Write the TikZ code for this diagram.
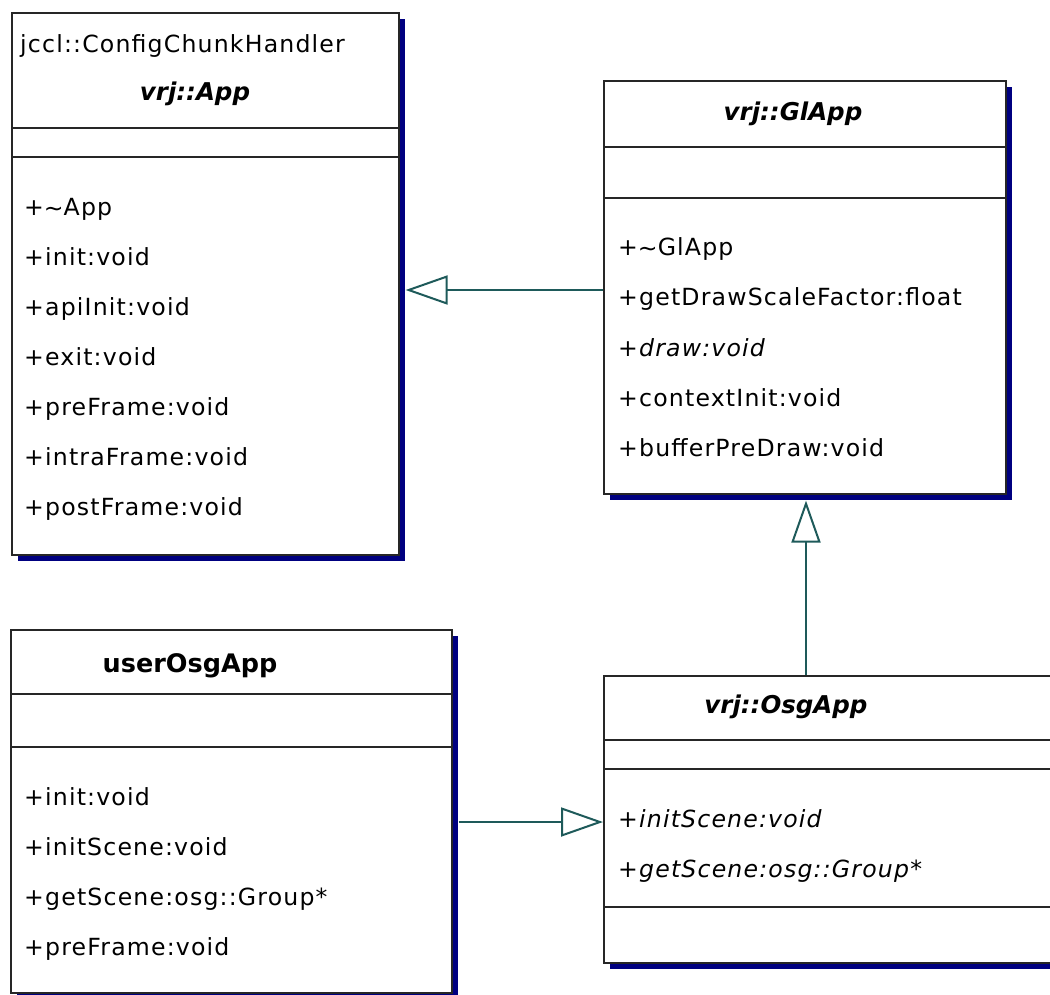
\documentclass[tikz,border=0pt]{standalone}
\usepackage{fontspec}
\setmainfont{DejaVu Sans}
\newfontfamily\mfont[LetterSpace=5]{DejaVu Sans}
\usetikzlibrary{arrows.meta,shadows}
\definecolor{shadowblue}{HTML}{000080}
\definecolor{linkteal}{HTML}{1E5A5A}
\begin{document}
\begin{tikzpicture}[x=1pt,y=-1pt,
  box/.style={draw=black!85, line width=1.6pt, fill=white, anchor=north west, inner sep=0pt,
    general shadow={fill=shadowblue, shadow xshift=6pt, shadow yshift=-6pt}},
  div/.style={draw=black!85, line width=1.6pt},
  txt/.style={anchor=base west, inner sep=0pt, font=\mfont\fontsize{23.6}{28}\selectfont},
  itxt/.style={txt, font=\mfont\fontsize{23.6}{28}\selectfont\itshape},
  ttl/.style={anchor=base, inner sep=0pt, font=\fontsize{24.5}{28}\selectfont\bfseries\itshape},
  bttl/.style={anchor=base, inner sep=0pt, font=\fontsize{25.5}{28}\selectfont\bfseries},
  inh/.style={draw=linkteal, line width=2pt, -{Triangle[open, length=42pt, width=29pt]}}]
\useasboundingbox (0,0) rectangle (1050,994);

% vrj::App
\node[box, minimum width=387pt, minimum height=542pt] (app) at (11,12) {};
\draw[div] (app.west |- 0,128) -- (app.east |- 0,128);
\draw[div] (app.west |- 0,157) -- (app.east |- 0,157);
\node[txt] (appst) at (20,52) {jccl::ConfigChunkHandler};
\node[ttl] (appt) at (195,100) {vrj::App};
\node[txt] (am1) at (24,215) {+\raisebox{-0.05em}{\char`\~}App};
\node[txt] (am2) at (24,265) {+init:void};
\node[txt] (am3) at (24,315) {+apiInit:void};
\node[txt] (am4) at (24,365) {+exit:void};
\node[txt] (am5) at (24,415) {+preFrame:void};
\node[txt] (am6) at (24,465) {+intraFrame:void};
\node[txt] (am7) at (24,515) {+postFrame:void};

% vrj::GlApp
\node[box, minimum width=402pt, minimum height=413pt] (glapp) at (603,80) {};
\draw[div] (glapp.west |- 0,147) -- (glapp.east |- 0,147);
\draw[div] (glapp.west |- 0,198) -- (glapp.east |- 0,198);
\node[ttl] (glt) at (793,120) {vrj::GlApp};
\node[txt] (gm1) at (618,255) {+\raisebox{-0.05em}{\char`\~}GlApp};
\node[txt] (gm2) at (618,305) {+getDrawScaleFactor:float};
\node[itxt] (gm3) at (618,356) {+draw:void};
\node[txt] (gm4) at (618,406) {+contextInit:void};
\node[txt] (gm5) at (618,456) {+bufferPreDraw:void};

% userOsgApp
\node[box, minimum width=441pt, minimum height=363pt] (user) at (10,629) {};
\draw[div] (user.west |- 0,694) -- (user.east |- 0,694);
\draw[div] (user.west |- 0,747) -- (user.east |- 0,747);
\node[bttl] (ut) at (190,672) {userOsgApp};
\node[txt] (um1) at (24,805) {+init:void};
\node[txt] (um2) at (24,855) {+initScene:void};
\node[txt] (um3) at (24,905) {+getScene:osg::Group*};
\node[txt] (um4) at (24,955) {+preFrame:void};

% vrj::OsgApp
\node[box, minimum width=457pt, minimum height=287pt] (osg) at (603,675) {};
\draw[div] (osg.west |- 0,740) -- (osg.east |- 0,740);
\draw[div] (osg.west |- 0,769) -- (osg.east |- 0,769);
\draw[div] (osg.west |- 0,907) -- (osg.east |- 0,907);
\node[ttl] (ot) at (786,713) {vrj::OsgApp};
\node[itxt] (om1) at (618,827) {+initScene:void};
\node[itxt] (om2) at (618,877) {+getScene:osg::Group*};

% inheritance connectors
\coordinate (appedge) at ([xshift=6pt]app.east);
\coordinate (gledge) at ([yshift=-6pt]glapp.south);
\coordinate (useredge) at ([xshift=6pt]user.east);
\draw[inh] (glapp.west |- 0,290) -- (appedge |- 0,290);
\draw[inh] (806,0 |- osg.north) -- (806,0 |- gledge);
\draw[inh] (useredge |- 0,822) -- (osg.west |- 0,822);
\end{tikzpicture}
\end{document}
